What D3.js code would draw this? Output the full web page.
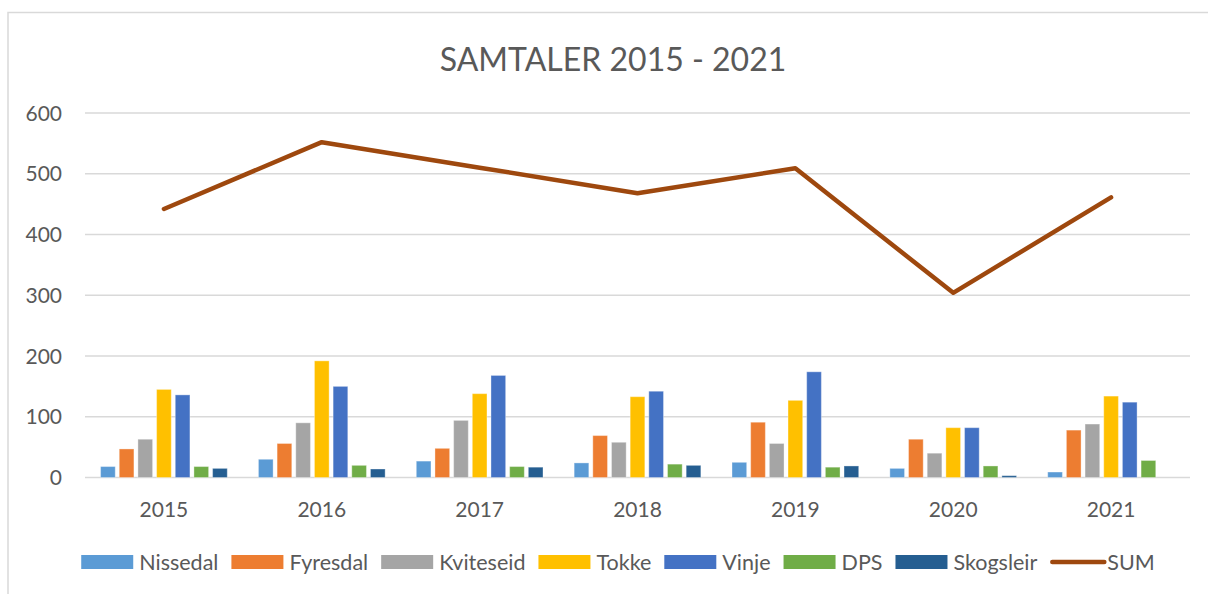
<!DOCTYPE html>
<meta charset="utf-8">
<style>
body { margin: 0; background: #fff; }
svg { display: block; font-family: Lato, "Open Sans", sans-serif; }
.grid line { stroke: #d9d9d9; stroke-width: 1.5px; }
.lbl { fill: #595959; }
</style>
<script src="https://cdn.jsdelivr.net/npm/d3@7"></script>
<body>
<svg width="1208" height="594"></svg>
</body>
<script>

// data
var years = ["2015", "2016", "2017", "2018", "2019", "2020", "2021"];
var series = ["Nissedal", "Fyresdal", "Kviteseid", "Tokke", "Vinje", "DPS", "Skogsleir"];
var nissedal  = [18, 30, 27, 24, 25, 15, 9];
var fyresdal  = [47, 56, 48, 69, 91, 63, 78];
var kviteseid = [63, 90, 94, 58, 56, 40, 88];
var tokke     = [145, 192, 138, 133, 127, 82, 134];
var vinje     = [136, 150, 168, 142, 174, 82, 124];
var dps       = [18, 20, 18, 22, 17, 19, 28];
var skogsleir = [15, 14, 17, 20, 19, 3, 0];
var sum       = [442, 552, 510, 468, 509, 304, 461];
var yTicks = [0, 100, 200, 300, 400, 500, 600];

var colors = ["#5b9bd5", "#ed7d31", "#a5a5a5", "#ffc000", "#4472c4", "#70ad47", "#255e91"];
var sumColor = "#9e480e";
var values = [nissedal, fyresdal, kviteseid, tokke, vinje, dps, skogsleir];

var svg = d3.select("svg");

// chart frame
svg.append("rect")
    .attr("x", 8).attr("y", 12.5)
    .attr("width", 1300).attr("height", 700)
    .attr("fill", "none")
    .attr("stroke", "#d9d9d9")
    .attr("stroke-width", 1.5);

var plotL = 85, plotR = 1190, plotT = 113, plotB = 477.5;

var x0 = d3.scaleBand().domain(years).range([plotL, plotR]);
var x1 = d3.scaleBand().domain(series).range([-63.35, 63.35]).paddingInner(0.214);
var y = d3.scaleLinear().domain([0, 600]).range([plotB, plotT]);

// title
svg.append("text")
    .attr("class", "lbl")
    .attr("x", 613).attr("y", 71)
    .attr("text-anchor", "middle")
    .style("font-size", "32px")
    .text("SAMTALER 2015 - 2021");

// gridlines
svg.append("g").attr("class", "grid")
  .selectAll("line")
  .data(yTicks)
  .enter().append("line")
    .attr("x1", plotL).attr("x2", plotR)
    .attr("y1", function(d) { return y(d); })
    .attr("y2", function(d) { return y(d); });

// y axis labels
svg.append("g")
  .selectAll("text")
  .data(yTicks)
  .enter().append("text")
    .attr("class", "lbl")
    .attr("x", 62)
    .attr("y", function(d) { return y(d) + 7.5; })
    .attr("text-anchor", "end")
    .style("font-size", "21px")
    .text(function(d) { return d; });

// x axis labels
svg.append("g")
  .selectAll("text")
  .data(years)
  .enter().append("text")
    .attr("class", "lbl")
    .attr("x", function(d) { return x0(d) + x0.bandwidth() / 2; })
    .attr("y", 516.5)
    .attr("text-anchor", "middle")
    .style("font-size", "21px")
    .text(function(d) { return d; });

// bars
var groups = svg.append("g")
  .selectAll("g")
  .data(years)
  .enter().append("g")
    .attr("transform", function(d) { return "translate(" + (x0(d) + x0.bandwidth() / 2) + ",0)"; });

groups.selectAll("rect")
  .data(function(d, i) { return series.map(function(s, j) { return { s: s, j: j, v: values[j][i] }; }); })
  .enter().append("rect")
    .filter(function(d) { return d.v > 0; })
    .attr("x", function(d) { return x1(d.s); })
    .attr("width", x1.bandwidth())
    .attr("y", function(d) { return y(d.v); })
    .attr("height", function(d) { return plotB - y(d.v); })
    .attr("fill", function(d) { return colors[d.j]; })
    .attr("stroke", "#fff")
    .attr("stroke-opacity", 0.35)
    .attr("stroke-width", 1);

// sum line
var line = d3.line()
    .x(function(d, i) { return x0(years[i]) + x0.bandwidth() / 2; })
    .y(function(d) { return y(d); });

svg.append("path")
    .datum(sum)
    .attr("d", line)
    .attr("fill", "none")
    .attr("stroke", sumColor)
    .attr("stroke-width", 4.5)
    .attr("stroke-linejoin", "round")
    .attr("stroke-linecap", "round");

// legend
var legend = svg.append("g");
var items = series.map(function(s, j) { return { name: s, color: colors[j], line: false }; });
items.push({ name: "SUM", color: sumColor, line: true });

var lx = 0;
items.forEach(function(it) {
  var g = legend.append("g").attr("transform", "translate(" + lx + ",0)");
  var w;
  if (it.line) {
    g.append("line")
        .attr("x1", 2).attr("x2", 54)
        .attr("y1", 562).attr("y2", 562)
        .attr("stroke", it.color)
        .attr("stroke-width", 4.5)
        .attr("stroke-linecap", "round");
    w = 57;
  } else {
    g.append("rect")
        .attr("x", 0).attr("y", 555)
        .attr("width", 52).attr("height", 14)
        .attr("fill", it.color);
    w = 58;
  }
  var t = g.append("text")
      .attr("class", "lbl")
      .attr("x", w).attr("y", 569.5)
      .style("font-size", "21.5px")
      .text(it.name);
  lx += w + t.node().getComputedTextLength() + 13;
});
lx -= 13;
legend.attr("transform", "translate(" + (618 - lx / 2) + ",0)");

</script>
